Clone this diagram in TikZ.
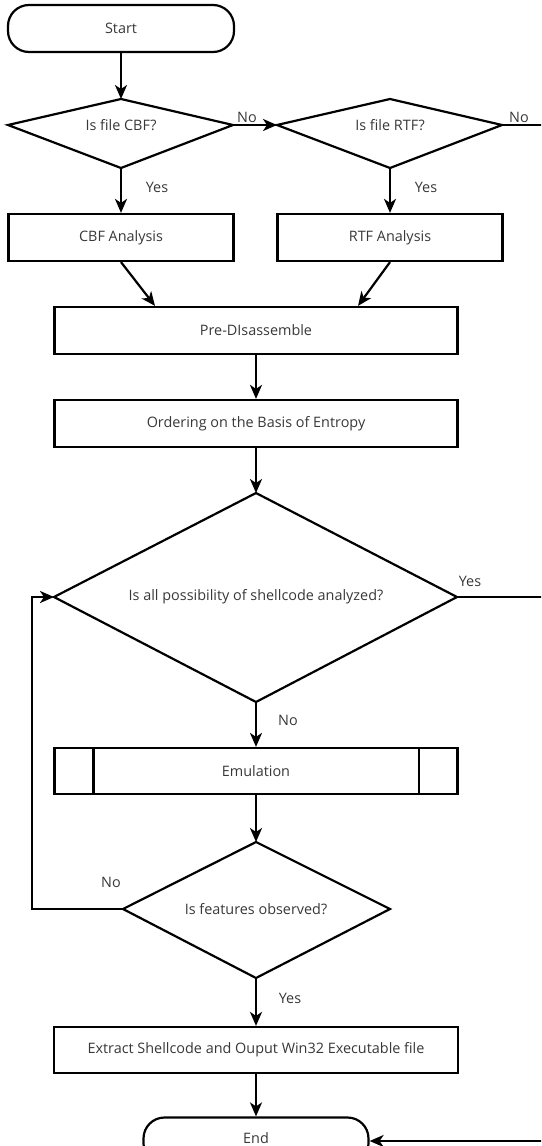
\documentclass[tikz,border=0pt]{standalone}
\usepackage{fontspec}
\setmainfont{Open Sans}
\usetikzlibrary{arrows.meta}
\begin{document}
\begin{tikzpicture}[x=1pt,y=-1pt,
  line width=2.2pt,
  txt/.style={font=\fontsize{14.4}{16}\selectfont, text=black!78, inner sep=0pt},
  box/.style={draw, rectangle, line width=2.2pt, minimum width=#1, minimum height=47pt, txt},
  term/.style={draw, rectangle, rounded corners=21pt, line width=2.2pt, minimum width=#1, minimum height=47pt, txt},
  lbl/.style={txt},
  arr/.style={-{Stealth[length=14pt,width=12pt,inset=4pt]}}]
\clip (0,0) rectangle (541,1146);
% Start
\node[term=226pt] (start) at (121,28.5) {Start};
% CBF diamond
\node[txt] (cbf) at (121,125) {Is file CBF?};
\coordinate (cbfT) at (121,99);
\coordinate (cbfR) at (233,125);
\coordinate (cbfB) at (121,168);
\coordinate (cbfL) at (8,125);
\draw[line join=miter] (cbfT) -- (cbfR) -- (cbfB) -- (cbfL) -- cycle;
% RTF diamond
\node[txt] (rtf) at (390,125) {Is file RTF?};
\coordinate (rtfT) at (390,99);
\coordinate (rtfR) at (502,125);
\coordinate (rtfB) at (390,168);
\coordinate (rtfL) at (277,125);
\draw[line join=miter] (rtfT) -- (rtfR) -- (rtfB) -- (rtfL) -- cycle;
\coordinate (rtfOut) at (545,125);
% analysis boxes
\node[box=225pt] (cbfa) at (121,237.5) {CBF Analysis};
\node[box=225pt] (rtfa) at (390,237.5) {RTF Analysis};
\node[box=403pt] (pre) at (256,330.5) {Pre-DIsassemble};
\node[box=403pt] (ord) at (256,423.5) {Ordering on the Basis of Entropy};
% big diamond
\node[txt] (all) at (256,597) {Is all possibility of shellcode analyzed?};
\coordinate (allT) at (256,493);
\coordinate (allR) at (457,597);
\coordinate (allB) at (256,702);
\coordinate (allL) at (54,597);
\draw[line join=miter] (allT) -- (allR) -- (allB) -- (allL) -- cycle;
\coordinate (allOut) at (545,597);
% emulation
\node[box=403pt, minimum height=46pt] (emu) at (256,771) {Emulation};
\draw ([xshift=40pt]emu.north west) -- ([xshift=40pt]emu.south west);
\draw ([xshift=-40pt]emu.north east) -- ([xshift=-40pt]emu.south east);
% features diamond
\node[txt] (feat) at (256,909) {Is features observed?};
\coordinate (featT) at (256,842);
\coordinate (featR) at (390,909);
\coordinate (featB) at (256,978);
\coordinate (featL) at (123,909);
\draw[line join=miter] (featT) -- (featR) -- (featB) -- (featL) -- cycle;
\coordinate (loopA) at (32,909);
\coordinate (loopB) at (32,597);
% extract
\node[box=404pt, minimum height=46pt] (ext) at (256,1050) {Extract Shellcode and Ouput Win32 Executable file};
% end
\node[term=225pt] (end) at (256,1141) {};
\node[txt] (endtxt) at (256,1138) {End};
\coordinate (endIn) at (545,1141);
% connectors
\draw[arr] (start) -- (cbfT);
\draw[arr] (cbfR) -- (rtfL);
\draw (rtfR) -- (rtfOut);
\draw[arr] (cbfB) -- (cbfa);
\draw[arr] (rtfB) -- (rtfa);
\draw[arr] (cbfa.south) -- (pre.north -| 155,0);
\draw[arr] (rtfa.south) -- (pre.north -| 358,0);
\draw[arr] (pre) -- (ord);
\draw[arr] (ord) -- (allT);
\draw (allR) -- (allOut);
\draw[arr] (allB) -- (emu);
\draw[arr] (emu) -- (featT);
\draw[arr] (featL) -- (loopA) -- (loopB) -- (allL);
\draw[arr] (featB) -- (ext);
\draw[arr] (ext) -- (end);
\draw[arr] (endIn) -- (end.east);
% labels
\node[lbl] at (247,117) {No};
\node[lbl] at (519,117) {No};
\node[lbl] at (157,187) {Yes};
\node[lbl] at (426,187) {Yes};
\node[lbl] at (470,581) {Yes};
\node[lbl] at (288,720) {No};
\node[lbl] at (111,882) {No};
\node[lbl] at (290,998) {Yes};
\end{tikzpicture}
\end{document}
